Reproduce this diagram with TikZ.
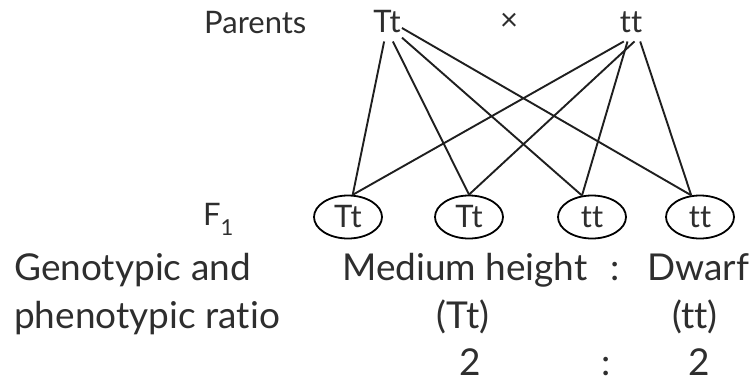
\documentclass[tikz,border=0pt]{standalone}
\usepackage{fontspec}
\setmainfont{Lato}[Ligatures={NoCommon}]
\usetikzlibrary{shapes.geometric}
\definecolor{ink}{HTML}{2E2E2E}

\begin{document}
\begin{tikzpicture}[
    x=1pt, y=-1pt,
    label/.style={font=\fontsize{31}{36}\selectfont, text=ink, inner sep=1pt},
    parent/.style={font=\fontsize{31}{36}\selectfont, text=ink, inner xsep=1pt, inner ysep=9pt},
    ratio/.style={font=\fontsize{37}{44}\selectfont, text=ink, inner sep=0pt},
    child/.style={draw, ellipse, line width=1.8pt, minimum width=68pt, minimum height=43pt, inner sep=0pt, font=\fontsize{31}{36}\selectfont, text=ink},
    link/.style={line width=1.9pt, draw=black!88}
]
\useasboundingbox (0,0) rectangle (751,383);

% parents
\node[label, anchor=base west] (parents) at (203,33) {Parents};
\node[parent, anchor=base] (p1) at (387,32) {Tt};
\node[label] (cross) at (509,22) {×};
\node[parent, anchor=base] (p2) at (631,32) {tt};

% offspring
\node[label, anchor=base west] (f1) at (202,225) {F\raisebox{-10pt}{\fontsize{22}{24}\selectfont 1}};
\node[child] (c1) at (348,217) {Tt};
\node[child] (c2) at (469,217) {Tt};
\node[child] (c3) at (592,217) {tt};
\node[child] (c4) at (700,217) {tt};

\draw[link] (p1.-98) -- (c1.78);
\draw[link] (p1.-74) -- (c2.north);
\draw[link] (p1.-48) -- (c3.115);
\draw[link] (p1.-25) -- (c4.112);
\draw[link] (p2.-110) -- (c1.78);
\draw[link] (p2.-80) -- (c2.north);
\draw[link] (p2.-100) -- (c3.115);
\draw[link] (p2.-65) -- (c4.112);

% ratio
\node[ratio, anchor=base west] (geno) at (14,280) {Genotypic and};
\node[ratio, anchor=base west] (pheno) at (14,328) {phenotypic ratio};
\node[ratio, anchor=base west] (medium) at (342,280) {Medium height};
\node[ratio, anchor=base] (colon1) at (615,280) {:};
\node[ratio, anchor=base west] (dwarf) at (647,280) {Dwarf};
\node[ratio, anchor=base] (gTt) at (463,328) {(Tt)};
\node[ratio, anchor=base] (gtt) at (695,328) {(tt)};
\node[ratio, anchor=base] (n1) at (470,375) {2};
\node[ratio, anchor=base] (colon2) at (606,375) {:};
\node[ratio, anchor=base] (n2) at (699,375) {2};
\end{tikzpicture}
\end{document}
